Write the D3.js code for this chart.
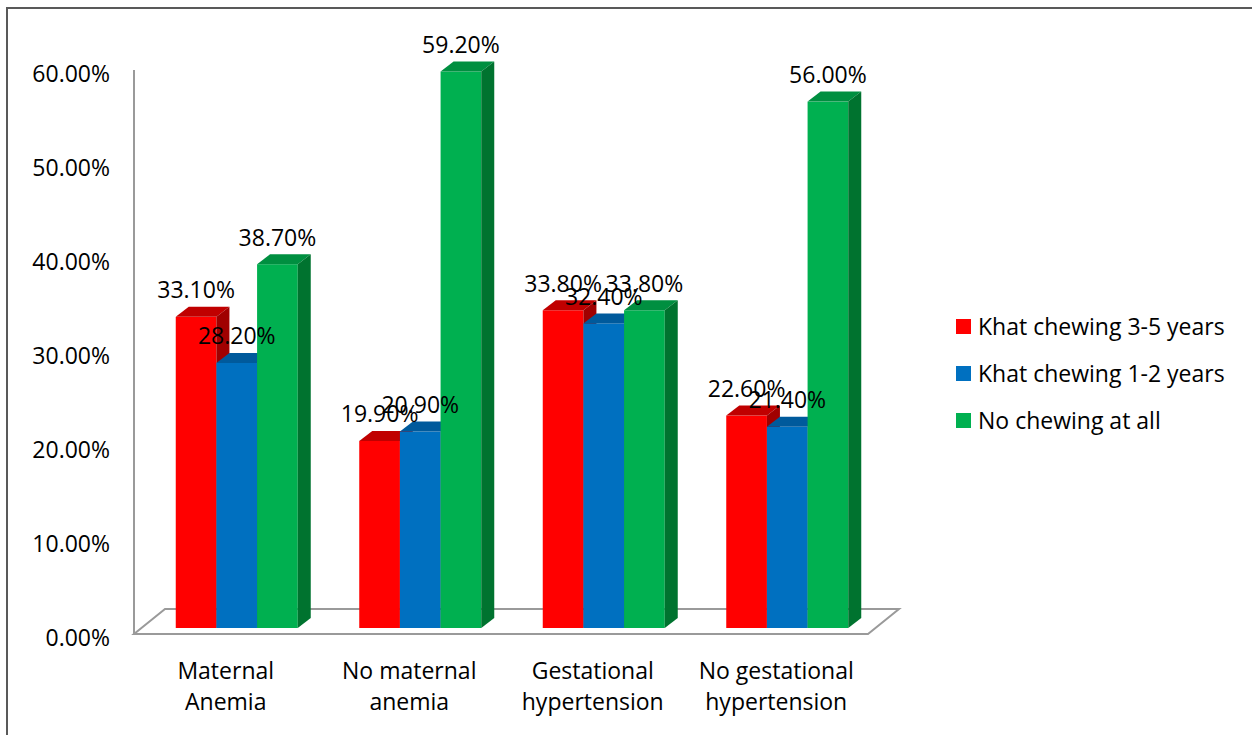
<!DOCTYPE html>
<html>
<head>
<meta charset="utf-8">
<script src="https://cdn.jsdelivr.net/npm/d3@7"></script>
<style>
  html, body { margin: 0; padding: 0; background: #fff; }
  svg { display: block; }
  text { font-family: "Open Sans", "Noto Sans", sans-serif; fill: #000; }
</style>
</head>
<body>
<svg id="chart" width="1252" height="735"></svg>
<script>
// Chart data
const categories = [
  ["Maternal", "Anemia"],
  ["No maternal", "anemia"],
  ["Gestational", "hypertension"],
  ["No gestational", "hypertension"]
];
const seriesNames = ["Khat chewing 3-5 years", "Khat chewing 1-2 years", "No chewing at all"];
const chew35 = [0.331, 0.199, 0.338, 0.226];
const chew12 = [0.282, 0.209, 0.324, 0.214];
const noChew = [0.387, 0.592, 0.338, 0.560];
const tickValues = [0, 0.1, 0.2, 0.3, 0.4, 0.5, 0.6];

const seriesValues = [chew35, chew12, noChew];
const palette = [
  { front: "#FF0000", top: "#C00000", side: "#A00000" },
  { front: "#0070C0", top: "#005A9C", side: "#004E88" },
  { front: "#00B050", top: "#008F40", side: "#00732F" }
];

const svg = d3.select("#chart");
const fmt = d3.format(".2%");
const FONT = 23;

// Outer frame
svg.append("rect")
  .attr("x", 7).attr("y", 8).attr("width", 1260).attr("height", 740)
  .attr("fill", "none").attr("stroke", "#595959").attr("stroke-width", 2);

// Front plane geometry
const x0 = 134, x1 = 868, yBase = 634;
const y = d3.scaleLinear().domain([0, 0.6]).range([yBase, 70]);
const xCat = d3.scaleBand().domain(d3.range(categories.length)).range([x0, x1]);
const groupW = 122;
const xSer = d3.scaleBand().domain(d3.range(seriesNames.length)).range([0, groupW]);

// Depth offsets: floor, bar plane, bar thickness
const floorDx = 31, floorDy = -25;
const barPx = 11, barPy = -6;
const depthDx = 13, depthDy = -10;

// Floor parallelogram
svg.append("path")
  .attr("d", `M${x0},${yBase} L${x1},${yBase} L${x1 + floorDx},${yBase + floorDy} L${x0 + floorDx},${yBase + floorDy} Z`)
  .attr("fill", "none").attr("stroke", "#9a9a9a").attr("stroke-width", 2);

// Vertical axis line
svg.append("line")
  .attr("x1", x0).attr("x2", x0).attr("y1", y(0.6)).attr("y2", yBase)
  .attr("stroke", "#9a9a9a").attr("stroke-width", 2);

// Y axis tick labels
const yAxis = d3.axisLeft(y).tickValues(tickValues).tickFormat(fmt).tickSize(0).tickPadding(0);
const gy = svg.append("g").attr("transform", `translate(110,0)`).call(yAxis);
gy.select(".domain").remove();
gy.selectAll("text")
  .attr("font-size", FONT)
  .attr("font-family", "\"Open Sans\", sans-serif")
  .attr("fill", "#000")
  .attr("dy", "0.5em");

// Category labels (two lines)
const catG = svg.append("g");
categories.forEach((lines, i) => {
  const cx = xCat(i) + xCat.bandwidth() / 2;
  const t = catG.append("text")
    .attr("text-anchor", "middle")
    .attr("font-size", FONT);
  lines.forEach((ln, k) => {
    t.append("tspan").attr("x", cx).attr("y", 679 + k * 31).text(ln);
  });
});

// 3D bars
const barsG = svg.append("g");
const labels = [];
categories.forEach((c, i) => {
  const gx = xCat(i) + (xCat.bandwidth() - groupW) / 2 + barPx;
  seriesValues.forEach((vals, s) => {
    const v = vals[i];
    const bx = gx + xSer(s);
    const bw = xSer.bandwidth();
    const yb = y(0) + barPy;
    const yt = y(v) + barPy;
    const col = palette[s];
    // front face
    barsG.append("rect")
      .attr("x", bx).attr("y", yt).attr("width", bw).attr("height", yb - yt)
      .attr("fill", col.front);
    // top face
    barsG.append("path")
      .attr("d", `M${bx},${yt} L${bx + depthDx},${yt + depthDy} L${bx + bw + depthDx},${yt + depthDy} L${bx + bw},${yt} Z`)
      .attr("fill", col.top);
    // side face
    barsG.append("path")
      .attr("d", `M${bx + bw},${yt} L${bx + bw + depthDx},${yt + depthDy} L${bx + bw + depthDx},${yb + depthDy} L${bx + bw},${yb} Z`)
      .attr("fill", col.side);
    labels.push({ x: bx + bw / 2, y: yt - 18.5, text: fmt(v) });
  });
});

// Value labels
svg.append("g").selectAll("text").data(labels).join("text")
  .attr("x", d => d.x).attr("y", d => d.y)
  .attr("text-anchor", "middle")
  .attr("font-size", FONT)
  .text(d => d.text);

// Legend
const legend = svg.append("g");
seriesNames.forEach((name, s) => {
  const cy = 327 + s * 47;
  legend.append("rect")
    .attr("x", 956).attr("y", cy - 8).attr("width", 15).attr("height", 15)
    .attr("fill", palette[s].front);
  legend.append("text")
    .attr("x", 978).attr("y", cy + 8)
    .attr("font-size", FONT)
    .text(name);
});
</script>
</body>
</html>
